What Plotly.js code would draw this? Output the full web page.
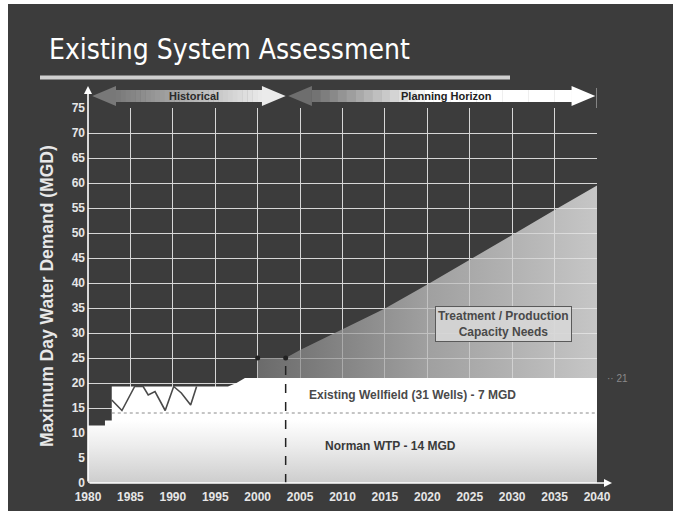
<!DOCTYPE html>
<html>
<head>
<meta charset="utf-8">
<script src="https://cdn.plot.ly/plotly-3.0.1.min.js"></script>
<style>html,body{margin:0;padding:0;background:#fff;}#chart{width:673px;height:513px;}</style>
</head>
<body>
<div id="chart"></div>
<script>
// ---- Data ----
const yTicks = [0,5,10,15,20,25,30,35,40,45,50,55,60,65,70,75];
const xTicks = [1980,1985,1990,1995,2000,2005,2010,2015,2020,2025,2030,2035,2040];

// Total supply capacity (top of the white area), MGD
const capacityYears = [1980, 1982, 1982, 1982.8, 1982.8, 1996.5, 1997.5, 1998.5, 2040];
const capacityMGD   = [11.5, 11.5, 12.5, 12.5, 19.3, 19.3, 20, 21, 21];

// Norman WTP level (dotted separator)
const wtpYears = [1982.8, 2040];
const wtpMGD   = [14, 14];

// Historical maximum day demand
const histYears = [1982.8, 1984, 1985.5, 1986.5, 1987.1, 1987.9, 1989.1, 1990.1, 1991, 1992.1, 1992.8];
const histMGD   = [16.6, 14.5, 19.3, 19.3, 17.6, 18.3, 14.5, 19.3, 18.0, 15.6, 19.3];

// Projected maximum day demand
const projYears = [2000, 2003.3, 2005, 2010, 2015, 2020, 2025, 2030, 2035, 2040];
const projMGD   = [25, 25, 26.6, 30.8, 34.9, 39.7, 44.6, 49.6, 54.6, 59.5];
const existingCapacity = 21;

const planningStart = 2003.3;
const historicalStart = 1980.5;

// ---- geometry helpers (pixel -> paper) ----
const L = 88, R = 76, T = 108, B = 30, W = 673, H = 513;
const pw = W - L - R, ph = H - T - B;
const px2paperX = p => (p - L) / pw;
const py2paperY = p => (H - B - p) / ph;
const yr2paperX = yr => (yr - 1980) / 60;

// ---- traces ----
const traces = [];
traces.push({
  x: capacityYears, y: capacityMGD, type: 'scatter', mode: 'lines',
  line: {width: 0, color: '#ffffff'}, fill: 'tozeroy',
  fillgradient: {type: 'vertical', colorscale: [[0, '#cdcdcd'], [0.35, '#ececec'], [0.6, '#ffffff'], [1, '#ffffff']]},
  hoverinfo: 'skip', showlegend: false
});
traces.push({
  x: wtpYears, y: wtpMGD, type: 'scatter', mode: 'lines',
  line: {width: 1, color: '#8a8a8a', dash: 'dot'}, hoverinfo: 'skip', showlegend: false
});
traces.push({
  x: histYears, y: histMGD, type: 'scatter', mode: 'lines',
  line: {width: 1.6, color: '#4a4a4a'}, hoverinfo: 'skip', showlegend: false
});
// projected-need polygon: projection line down to the existing capacity level
const polyX = projYears.concat(projYears.slice().reverse());
const polyY = projMGD.concat(projYears.map(() => existingCapacity));
traces.push({
  x: polyX, y: polyY, type: 'scatter', mode: 'lines',
  line: {width: 0}, fill: 'toself',
  fillgradient: {type: 'horizontal', colorscale: [[0, 'rgba(125,125,125,0.72)'], [0.5, 'rgba(188,188,188,0.78)'], [1, 'rgba(228,228,228,0.82)']]},
  hoverinfo: 'skip', showlegend: false
});
traces.push({
  x: projYears.slice(0, 2), y: projMGD.slice(0, 2), type: 'scatter', mode: 'markers',
  marker: {size: 5, color: '#222'}, hoverinfo: 'skip', showlegend: false
});
traces.push({
  x: [planningStart, planningStart], y: [0, projMGD[1]], type: 'scatter', mode: 'lines',
  line: {width: 1.5, color: '#222', dash: 'dash'}, hoverinfo: 'skip', showlegend: false
});

// ---- decorative shapes ----
const shapes = [];
// slide background
shapes.push({type: 'rect', xref: 'paper', yref: 'paper', layer: 'below',
  x0: px2paperX(8), x1: px2paperX(673), y0: py2paperY(511), y1: py2paperY(4),
  fillcolor: '#3c3c3c', line: {width: 0}});
// title underline
shapes.push({type: 'line', xref: 'paper', yref: 'paper', layer: 'below',
  x0: px2paperX(40), x1: px2paperX(510), y0: py2paperY(77.5), y1: py2paperY(77.5),
  line: {color: '#cfcfcf', width: 4}});
// right border line of grid extending up
shapes.push({type: 'line', xref: 'x', yref: 'paper', layer: 'below',
  x0: 2040, x1: 2040, y0: 1, y1: py2paperY(88), line: {color: '#cccccc', width: 1}});

// gradient double arrows at the top
function hex(c){return '#' + c.map(v => Math.round(v).toString(16).padStart(2,'0')).join('');}
function mix(a, b, t){return [0,1,2].map(i => a[i] + (b[i]-a[i]) * t);}
function arrow(x0, x1, colorAt){
  const yc = py2paperY(96), hs = 6/ph, hh = 10/ph, head = 2.8;
  const s0 = x0 + head, s1 = x1 - head, N = 30;
  for (let i = 0; i < N; i++) {
    const a = s0 + (s1 - s0) * i / N, b = s0 + (s1 - s0) * (i + 1) / N + 0.05;
    shapes.push({type: 'rect', xref: 'x', yref: 'paper', layer: 'below', x0: a, x1: b, y0: yc - hs, y1: yc + hs,
      fillcolor: hex(colorAt((i + 0.5) / N)), line: {width: 0}});
  }
  shapes.push({type: 'path', xref: 'x', yref: 'paper', layer: 'below',
    path: `M ${s0},${yc-hh} L ${x0},${yc} L ${s0},${yc+hh} Z`, fillcolor: hex(colorAt(0)), line: {width: 0}});
  shapes.push({type: 'path', xref: 'x', yref: 'paper', layer: 'below',
    path: `M ${s1},${yc-hh} L ${x1},${yc} L ${s1},${yc+hh} Z`, fillcolor: hex(colorAt(1)), line: {width: 0}});
}
arrow(historicalStart, planningStart, t => mix([120,120,120],[235,235,235], t));
arrow(planningStart + 0.3, 2039.8, t => t < 0.45 ? mix([110,110,110],[255,255,255], t/0.45) : [255,255,255]);

// ---- annotations ----
const annotations = [
  {text: 'Existing System Assessment', xref: 'paper', yref: 'paper', x: px2paperX(47), y: py2paperY(49),
   xanchor: 'left', yanchor: 'middle', showarrow: false,
   font: {family: 'DejaVu Sans Condensed', size: 28, color: '#ffffff'}},
  {text: 'Maximum Day Water Demand (MGD)', xref: 'paper', yref: 'paper', x: px2paperX(47), y: py2paperY(296),
   textangle: -90, showarrow: false, xanchor: 'center', yanchor: 'middle',
   font: {family: 'Liberation Sans', size: 17.5, color: '#e8e8e8', weight: 'bold'}},
  {text: 'Historical', xref: 'paper', yref: 'paper', x: yr2paperX(1992.5), y: py2paperY(96), showarrow: false,
   xanchor: 'center', yanchor: 'middle',
   font: {family: 'Liberation Sans', size: 11, color: '#2a2a2a', weight: 'bold'}},
  {text: 'Planning Horizon', xref: 'paper', yref: 'paper', x: yr2paperX(2022.3), y: py2paperY(96), showarrow: false,
   xanchor: 'center', yanchor: 'middle',
   font: {family: 'Liberation Sans', size: 11, color: '#222222', weight: 'bold'}},
  // axis arrows
  {text: '', xref: 'paper', yref: 'paper', x: 0, y: py2paperY(86), ax: 0, ay: 397,
   showarrow: true, arrowhead: 2, arrowsize: 1, arrowwidth: 1.6, arrowcolor: '#ffffff'},
  {text: '', xref: 'paper', yref: 'paper', x: px2paperX(612), y: 0, ax: -524, ay: 0,
   showarrow: true, arrowhead: 2, arrowsize: 1, arrowwidth: 1.6, arrowcolor: '#ffffff'},
  {text: 'Treatment / Production<br>Capacity Needs', xref: 'x', yref: 'y', x: 2029, y: 31.8,
   showarrow: false, bgcolor: 'rgba(215,215,215,0.9)', bordercolor: '#5a5a5a', borderwidth: 1, borderpad: 2,
   font: {family: 'Liberation Sans', size: 12, color: '#4a4a4a', weight: 'bold'}},
  {text: 'Existing Wellfield (31 Wells) - 7 MGD', xref: 'x', yref: 'y', x: 2018.3, y: 17.6, showarrow: false,
   font: {family: 'Liberation Sans', size: 12, color: '#4a4a4a', weight: 'bold'}},
  {text: 'Norman WTP - 14 MGD', xref: 'x', yref: 'y', x: 2015.6, y: 7.4, showarrow: false,
   font: {family: 'Liberation Sans', size: 12, color: '#3a3a3a', weight: 'bold'}},
  {text: '·· 21', xref: 'paper', yref: 'y', x: px2paperX(630), y: existingCapacity, showarrow: false,
   font: {family: 'Liberation Sans', size: 10, color: '#8a8a8a'}}
];

const layout = {
  width: W, height: H,
  margin: {l: L, r: R, t: T, b: B, pad: 0},
  paper_bgcolor: '#ffffff', plot_bgcolor: '#333333',
  showlegend: false,
  xaxis: {range: [1980, 2040], tickvals: xTicks, ticktext: xTicks.map(String),
    showgrid: true, gridcolor: '#d6d6d6', gridwidth: 1, zeroline: false, showline: false,
    ticks: '', ticklabelstandoff: 5, tickfont: {family: 'Liberation Sans', size: 12, color: '#e6e6e6', weight: 'bold'}, fixedrange: true},
  yaxis: {range: [0, 75], tickvals: yTicks, ticktext: yTicks.map(String),
    showgrid: true, gridcolor: '#d6d6d6', gridwidth: 1, zeroline: false, showline: false,
    ticks: '', ticklabelstandoff: 2, tickfont: {family: 'Liberation Sans', size: 12, color: '#e6e6e6', weight: 'bold'}, fixedrange: true},
  shapes: shapes,
  annotations: annotations
};

Plotly.newPlot('chart', traces, layout, {displayModeBar: false, staticPlot: true});
</script>
</body>
</html>
